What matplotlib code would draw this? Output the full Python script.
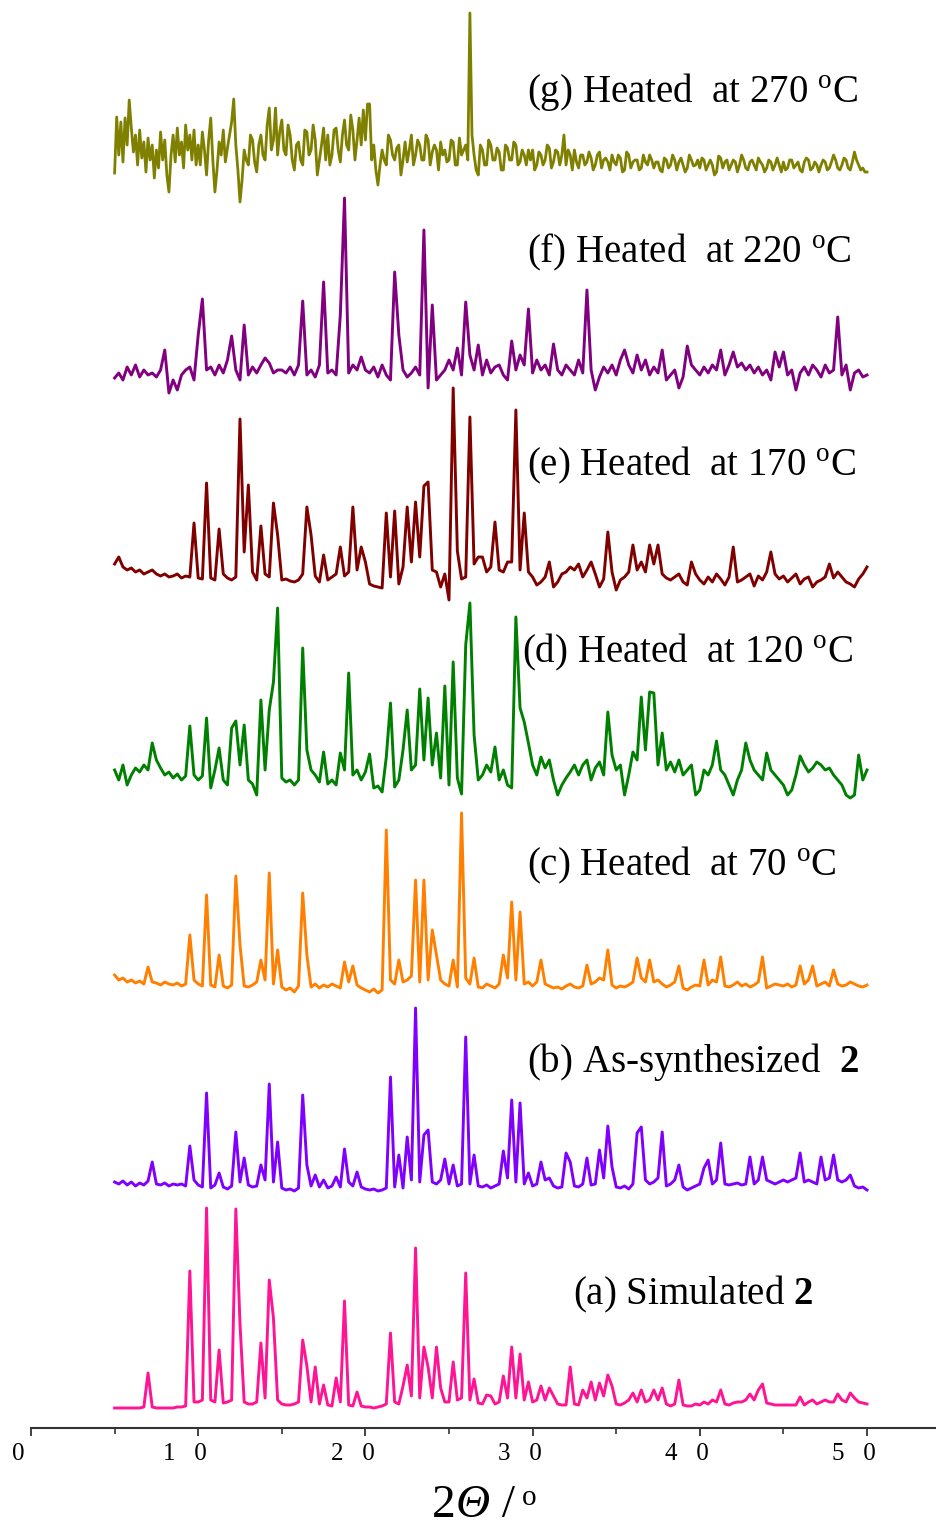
import numpy as np
import matplotlib
matplotlib.use("Agg")
import matplotlib.pyplot as plt
import matplotlib.transforms as mtransforms
from matplotlib.ticker import MultipleLocator

plt.rcParams['font.family'] = ['Liberation Serif', 'DejaVu Serif']
plt.rcParams['mathtext.fontset'] = 'custom'
plt.rcParams['mathtext.rm'] = 'Liberation Serif'
plt.rcParams['mathtext.it'] = 'Liberation Serif:italic'
plt.rcParams['mathtext.bf'] = 'Liberation Serif:bold'

# 2theta grids, 5..50 deg: 0.25 deg steps (181 points), 0.125 deg for the noisy (g) scan
two_theta = np.linspace(5.0, 50.0, 181)
two_theta_fine = np.linspace(5.0, 50.0, 361)

# ---- (a) simulated 2 ----
bg_a = [0, 0, 0, 0, 0, 0, 0, 1, 3, 1, 0, 0, 0, 0, 0, 1, 1, 2, 4, 6,
        6, 8, 12, 8, 6, 8, 5, 6, 8, 12, 14, 6, 4, 4, 6, 8, 10, 12, 12, 8,
        4, 3, 3, 4, 6, 10, 8, 6, 6, 4, 6, 3, 2, 5, 6, 8, 3, 2, 4, 2,
        1, 1, 0, 1, 2, 4, 8, 6, 4, 8, 10, 12, 14, 10, 12, 10, 10, 12, 8, 6,
        6, 8, 8, 10, 12, 8, 8, 5, 4, 6, 6, 4, 6, 8, 10, 12, 10, 10, 8, 6,
        6, 8, 10, 8, 8, 6, 4, 3, 3, 6, 4, 3, 6, 10, 8, 8, 10, 12, 10, 8,
        4, 3, 5, 8, 10, 6, 8, 6, 8, 10, 8, 6, 4, 2, 4, 6, 3, 2, 2, 4,
        3, 6, 4, 8, 6, 6, 4, 3, 5, 6, 6, 8, 10, 8, 10, 8, 5, 4, 3, 3,
        3, 3, 3, 3, 4, 3, 6, 8, 4, 6, 8, 6, 6, 8, 8, 6, 8, 10, 6, 5,
        4]
pk_a = [(7.07, 35), (9.47, 137), (10.43, 200), (11.16, 58), (12.14, 199),
        (12.58, 84), (13.70, 65), (14.27, 128), (14.61, 90), (16.19, 68),
        (16.53, 42), (16.93, 41), (17.38, 23), (18.32, 30), (18.82, 107),
        (19.6, 16), (21.47, 75), (22.17, 22), (22.47, 43), (23.07, 160),
        (23.5, 61), (23.8, 41), (24.18, 61), (24.6, 20), (25.22, 46),
        (25.9, 135), (26.56, 29), (27.15, 13), (27.45, 12), (28.19, 32),
        (28.79, 61), (29.25, 54), (29.84, 26), (30.5, 22), (30.9, 20),
        (31.3, 12), (32.24, 41), (33.0, 18), (33.4, 26), (33.9, 25),
        (34.4, 33), (34.85, 22), (36.0, 15), (36.6, 18), (37.2, 18),
        (37.8, 20), (38.8, 28), (41.2, 18), (42.9, 14), (43.4, 18),
        (43.8, 24), (46.0, 11), (48.2, 14), (49.0, 15)]

# ---- (b) as-synthesized 2 ----
bg_b = [8, 6, 9, 5, 8, 4, 7, 5, 9, 10, 6, 5, 7, 4, 6, 5, 6, 4, 8, 10,
        5, 3, 4, 2, 5, 8, 3, 1, 4, 6, 8, 10, 5, 3, 4, 8, 10, 12, 8, 10,
        2, 0, 1, -1, 2, 4, 8, 4, 6, 3, 5, 2, 4, 6, 3, 6, 8, 4, 6, 3,
        1, 0, 1, -1, 0, 2, 8, 3, 6, 2, 8, 10, 12, 8, 12, 15, 8, 6, 10, 8,
        6, 8, 4, 6, 10, 6, 8, 4, 3, 5, 2, 4, 6, 8, 12, 10, 8, 12, 6, 8,
        4, 6, 8, 10, 6, 4, 2, 3, 6, 8, 4, 3, 6, 8, 5, 6, 10, 12, 10, 6,
        3, 2, 4, 1, 6, 8, 12, 10, 6, 8, 12, 8, 4, 6, 10, 8, 3, 0, 2, 4,
        6, 8, 10, 6, 10, 8, 6, 5, 6, 7, 5, 6, 8, 6, 10, 8, 10, 8, 6, 8,
        10, 8, 10, 12, 10, 8, 10, 8, 6, 8, 10, 12, 8, 10, 8, 10, 6, 4, 2, 3,
        0]
pk_b = [(7.22, 28), (9.61, 44), (10.55, 97), (11.3, 17), (12.16, 58),
        (12.66, 32), (13.86, 25), (14.33, 106), (14.65, 48), (16.29, 95),
        (16.5, 25), (17.0, 15), (17.4, 10), (18.2, 13), (18.82, 41),
        (19.4, 18), (21.43, 113), (21.97, 35), (22.47, 53), (23.1, 182),
        (23.56, 55), (23.82, 60), (24.66, 31), (25.26, 25), (25.96, 153),
        (26.6, 35), (28.15, 39), (28.81, 90), (29.29, 87), (29.8, 17),
        (30.44, 28), (31.0, 12), (32.04, 37), (32.3, 28), (33.13, 32),
        (34.0, 40), (34.43, 64), (34.8, 23), (36.23, 57), (36.48, 63),
        (37.82, 58), (38.8, 25), (40.2, 22), (40.6, 30), (41.2, 47),
        (43.1, 33), (43.8, 33), (46.0, 37), (47.3, 33), (48.09, 35),
        (49.0, 15)]

# ---- (c) heated at 70 C ----
bg_c = [15, 10, 12, 8, 10, 7, 9, 6, 10, 8, 7, 5, 8, 6, 5, 7, 4, 6, 8, 10,
        6, 4, 8, 5, 3, 8, 4, 2, 5, 8, 10, 4, 3, 5, 8, 6, 10, 12, 6, 8,
        3, 0, 2, -2, 4, 8, 5, 3, 6, 2, 5, 3, 6, 4, 2, 6, 8, 3, 5, 2,
        0, -2, 1, -3, 0, 4, 10, 6, 4, 8, 10, 14, 12, 8, 12, 10, 8, 6, 10, 6,
        4, 8, 3, 5, 12, 6, 8, 3, 2, 6, 4, 2, 6, 10, 12, 14, 10, 12, 6, 8,
        4, 8, 10, 6, 4, 2, 3, 1, 4, 6, 3, 2, 4, 8, 6, 8, 12, 10, 8, 5,
        2, 4, 3, 5, 8, 10, 12, 8, 6, 8, 10, 6, 3, 5, 8, 4, 2, 0, 3, 5,
        4, 8, 5, 10, 8, 6, 4, 3, 5, 8, 4, 6, 3, 5, 8, 4, 2, 4, 6, 5,
        4, 6, 3, 5, 8, 6, 10, 8, 4, 6, 8, 4, 3, 6, 4, 5, 8, 6, 4, 3,
        5]
pk_c = [(7.12, 23), (9.51, 55), (10.47, 95), (11.24, 35), (12.14, 114),
        (12.62, 45), (13.70, 30), (14.29, 117), (14.65, 40), (16.27, 97),
        (16.5, 35), (18.78, 28), (19.2, 24), (21.35, 160), (21.95, 30),
        (22.97, 110), (23.56, 110), (23.98, 60), (24.28, 35), (25.36, 30),
        (25.84, 177), (26.56, 32), (28.17, 35), (28.77, 88), (29.25, 78),
        (30.44, 30), (33.13, 25), (34.39, 40), (36.24, 32), (36.9, 30),
        (38.82, 24), (40.19, 30), (41.15, 33), (43.78, 33), (45.99, 24),
        (46.7, 24), (48.03, 20)]

# ---- (d) heated at 120 C ----
bg_d = [20, 10, 25, 5, 15, 22, 18, 25, 20, 28, 30, 22, 15, 18, 12, 16, 10, 14, 12, 15,
        10, 14, 12, 2, 20, 8, 10, 5, 15, 20, 25, 18, 10, 6, -5, 30, 20, 25, 30, 20,
        12, 8, 10, 5, 10, 30, 35, 20, 15, 8, 12, 6, 10, 5, 12, 20, 25, 15, 20, 10,
        18, 5, 2, 4, -2, 8, 20, 3, 10, 30, 35, 20, 25, 15, 30, 35, 25, 20, 12, -8,
        5, -3, 12, -4, 20, 25, 20, 10, 15, 25, 18, 5, 10, 20, 5, 2, 15, 20, 35, 30,
        25, 15, 12, 22, 20, 10, -5, 5, 12, 18, 20, 15, 25, 20, 10, 22, 28, 15, 20, 35,
        20, 25, -5, 15, 20, 30, 35, 40, 30, 35, 25, 30, 20, 28, 18, 12, 15, 20, 25, -5,
        0, 20, 15, 25, 18, 20, 15, 5, -5, 10, 20, 25, 30, 20, 15, 10, 25, 20, 15, 10,
        5, -5, 0, 15, 20, 25, 18, 22, 28, 25, 20, 22, 15, 10, 5, -5, -8, -5, -2, 10,
        20]
pk_d = [(7.22, 47), (9.61, 64), (10.57, 72), (11.32, 42), (12.05, 62),
        (12.25, 69), (12.76, 65), (13.8, 90), (14.2, 80), (14.45, 108),
        (14.7, 182), (16.29, 142), (16.5, 40), (17.58, 38), (18.38, 37),
        (18.88, 117), (19.5, 20), (20.17, 36), (21.3, 33), (21.6, 87),
        (22.3, 40), (22.6, 80), (23.17, 101), (23.7, 92), (24.16, 57),
        (24.66, 104), (25.26, 128), (25.96, 145), (26.2, 187), (26.5, 55),
        (27.75, 43), (29.0, 173), (29.35, 82), (29.6, 68), (29.84, 47),
        (30.5, 33), (31.0, 30), (32.5, 25), (33.3, 30), (34.43, 78),
        (36.0, 38), (36.62, 93), (37.02, 98), (37.22, 97), (37.82, 57),
        (38.25, 23), (38.82, 30), (41.1, 49), (42.8, 47), (43.9, 37),
        (46.0, 34), (49.4, 35)]

# ---- (e) heated at 170 C ----
bg_e = [18, 25, 15, 12, 14, 10, 12, 8, 10, 12, 8, 6, 8, 5, 6, 8, 4, 6, 5, 8,
        4, 3, 6, 4, 2, 5, 8, 4, 2, 5, 20, 15, 8, 10, 2, 12, 8, 5, 10, 5,
        2, 3, 1, 0, 2, 8, 5, 3, 6, 0, 4, 2, 5, 8, 4, 6, 10, 8, 12, 5,
        3, -2, -4, -5, -6, 8, 5, 10, -2, 15, 12, 20, -3, 25, -2, -5, 12, 10, -5, 8,
        -18, 10, 15, 3, 5, -2, 18, 25, 0, 10, 15, 8, 12, 10, 20, 15, 5, 12, -5, 10,
        5, -3, 0, 5, 12, -5, 0, 8, 10, 15, 12, -8, 5, 12, 15, 8, -5, 3, 5, 10,
        -8, 2, 5, 10, 15, 12, 20, 10, 15, 18, 10, 8, 4, 2, 5, 8, 0, -3, 4, 8,
        2, -2, 5, 0, 8, 3, -3, 5, 8, 0, 2, 5, 8, -4, 6, 2, 10, 5, 8, 3,
        6, 0, 4, 8, -2, 3, 5, -5, 0, 2, 5, 8, 4, 10, 5, 0, -2, -5, 3, 8,
        15]
pk_e = [(9.65, 59), (10.55, 99), (11.34, 53), (12.4, 163), (12.7, 30),
        (13.04, 97), (13.8, 56), (14.4, 79), (14.85, 47), (16.39, 75),
        (16.79, 47), (17.58, 27), (18.54, 35), (19.14, 75), (19.8, 35),
        (20.1, 20), (21.37, 69), (21.77, 71), (22.47, 75), (23.07, 80),
        (23.47, 96), (23.8, 100), (25.36, 194), (25.6, 31), (26.26, 165),
        (27.05, 25), (27.81, 60), (28.75, 20), (29.1, 172), (29.59, 69),
        (31.04, 20), (32.73, 18), (33.53, 20), (34.5, 50), (36.0, 37),
        (37.0, 37), (37.6, 37), (39.61, 20), (41.9, 35), (44.34, 30),
        (47.79, 18)]

# ---- (f) heated at 220 C ----
bg_f = [7, 12, 5, 18, 10, 20, 8, 15, 10, 12, 8, 15, 10, -8, 5, -5, 10, 15, 18, 5,
        10, -5, 15, 18, 10, 20, 12, 25, 8, 15, 5, 20, 10, 18, 12, 20, 15, 22, 12, 15,
        15, 12, 18, 10, 20, 5, 10, 15, 8, 20, -5, 12, 15, 10, 18, 8, 12, 20, 15, 10,
        15, 12, 18, 8, 20, 10, 5, 20, -5, 15, 8, 12, 18, 10, 20, -3, 15, 5, 10, 15,
        20, 15, 25, 10, 12, 30, 15, 18, 10, 25, 12, 18, 20, 10, 5, 25, 15, 30, 20, 10,
        12, 25, 15, 20, 10, 18, 15, 10, 20, 15, 10, 25, 12, 8, 15, -5, 8, 18, 12, 20,
        10, 25, 15, 20, 12, 8, 15, 25, 10, 18, 12, 20, 5, 10, 15, -3, 8, 12, 20, 15,
        10, 18, 12, 20, 15, 25, 10, 20, 15, 18, 22, 15, 20, 12, 18, 10, 15, 5, 12, 18,
        20, 10, 15, -5, 12, 18, 10, 20, 15, 8, 20, 12, 15, 5, 10, 20, -5, 12, 15, 8,
        10]
pk_f = [(8.0, 35), (9.9, 50), (10.15, 86), (11.9, 49), (12.76, 60),
        (14.0, 27), (16.25, 84), (17.5, 103), (18.45, 70), (18.68, 187),
        (19.65, 28), (21.67, 113), (21.9, 50), (23.56, 155), (24.02, 80),
        (25.0, 25), (25.56, 37), (26.11, 83), (26.75, 40), (28.65, 44),
        (29.84, 76), (31.24, 41), (33.19, 95), (35.4, 35), (36.3, 30),
        (37.7, 35), (39.25, 39), (41.17, 35), (42.0, 33), (44.4, 33),
        (44.9, 33), (48.15, 68)]

# ---- (g) heated at 270 C (0.125 deg steps) ----
bg_g = [17, 73, 35, 68, 28, 72, 45, 20, 62, 38, 55, 25, 60, 32, 48, 18, 52, 30, 45, 12,
        40, 22, 58, 30, 50, 15, -2, 35, 55, 28, 62, 35, 48, 22, 65, 40, 55, 30, 60, 25,
        45, 25, 58, 40, 15, 50, 72, 30, -2, 20, 48, 35, 60, 28, 42, 55, 68, 40, 45, 20,
        -12, 10, 40, 30, 25, 55, 50, 28, 18, 45, 55, 35, 30, 65, 82, 40, 50, 60, 35, 58,
        70, 40, 35, 65, 55, 30, 20, 45, 48, 30, 25, 60, 58, 35, 40, 65, 50, 15, 30, 45,
        62, 30, 55, 25, 35, 60, 62, 40, 28, 55, 70, 45, 40, 75, 60, 30, 50, 72, 45, 80,
        50, 86, 70, 30, 45, 20, 5, 25, 40, 30, 25, 55, 50, 35, 30, 42, 45, 15, 30, 48,
        28, 40, 55, 25, 35, 50, 45, 30, 30, 55, 50, 25, 38, 45, 40, 20, 48, 35, 40, 28,
        30, 50, 48, 25, 25, 52, 35, 40, 45, 30, 50, 55, 35, 20, 15, 45, 40, 25, 25, 50,
        45, 30, 30, 42, 38, 20, 20, 45, 42, 30, 30, 48, 45, 25, 28, 40, 35, 25, 40, 30,
        40, 20, 25, 38, 35, 25, 30, 45, 42, 22, 28, 40, 38, 25, 35, 30, 25, 40, 35, 20,
        40, 28, 22, 35, 35, 25, 28, 38, 32, 20, 25, 35, 38, 22, 30, 32, 28, 20, 35, 28,
        25, 35, 32, 18, 20, 38, 35, 22, 28, 30, 30, 20, 22, 35, 28, 25, 35, 30, 22, 28,
        28, 20, 18, 32, 30, 22, 25, 35, 30, 20, 28, 32, 25, 18, 22, 35, 30, 24, 25, 30,
        22, 32, 30, 20, 25, 30, 25, 15, 18, 34, 32, 22, 28, 30, 20, 25, 30, 28, 18, 25,
        35, 30, 22, 20, 28, 30, 25, 20, 32, 28, 25, 18, 22, 30, 28, 20, 25, 32, 25, 18,
        28, 20, 22, 30, 30, 22, 25, 28, 20, 18, 28, 32, 30, 20, 22, 28, 25, 18, 25, 30,
        28, 20, 22, 28, 35, 30, 22, 20, 25, 32, 30, 22, 20, 28, 38, 30, 25, 20, 22, 18,
        18]
pk_g = [(5.92, 90), (12.1, 91), (14.6, 82), (20.27, 86), (26.26, 177),
        (31.9, 55)]

labels = ['(a) Simulated $\\mathbf{2}$',
          '(b) As-synthesized  $\\mathbf{2}$',
          '(c) Heated  at 70 $^{\\rm o}$C',
          '(d) Heated  at 120 $^{\\rm o}$C',
          '(e) Heated  at 170 $^{\\rm o}$C',
          '(f) Heated  at 220 $^{\\rm o}$C',
          '(g) Heated  at 270 $^{\\rm o}$C']
colors = ['#ff1493', '#8000ff', '#ff8000', '#008000', '#800000', '#800080', '#808000']
grids = [two_theta] * 6 + [two_theta_fine]
backgrounds = [bg_a, bg_b, bg_c, bg_d, bg_e, bg_f, bg_g]
peak_lists = [pk_a, pk_b, pk_c, pk_d, pk_e, pk_f, pk_g]

# stacking offsets and label placement
offsets = [20, 238, 438, 638, 846, 1043, 1238]
label_x = [32.42, 29.67, 29.67, 29.37, 29.67, 29.67, 29.67]
label_y = [134, 366, 563, 776, 963, 1176, 1336]


def build_pattern(grid, bg, peaks):
    y = np.array(bg, dtype=float)
    for pos, h in peaks:
        i = int(np.argmin(np.abs(grid - pos)))
        y[i] = max(y[i], h)
    return y


def main():
    fig = plt.figure(figsize=(9.36, 15.26), dpi=100)
    ax = fig.add_axes([31 / 936, 98 / 1526, 905 / 936, 1428 / 1526])

    for grid, bg, pk, off, col, lab, lx, ly in zip(grids, backgrounds, peak_lists,
                                                   offsets, colors, labels,
                                                   label_x, label_y):
        y = build_pattern(grid, bg, pk)
        lw = 2.0 if grid is two_theta_fine else 2.1
        ax.plot(grid, y + off, color=col, lw=lw, solid_joinstyle='round')
        ax.text(lx, ly, lab, fontsize=28, va='center', ha='left', color='black')

    ax.set_xlim(0, 905 / 16.72)
    ax.set_ylim(0, 1428)

    for s in ['left', 'right', 'top']:
        ax.spines[s].set_visible(False)
    ax.spines['bottom'].set_color('#333333')
    ax.spines['bottom'].set_linewidth(1.5)
    ax.set_yticks([])

    ax.set_xticks([0, 10, 20, 30, 40, 50])
    ax.set_xticklabels(['0', '1   0', '2   0', '3   0', '4   0', '5   0'])
    ax.xaxis.set_minor_locator(MultipleLocator(5))
    ax.tick_params(axis='x', which='major', direction='out', length=6, width=1.3,
                   color='#333333', labelsize=18, pad=5)
    ax.tick_params(axis='x', which='minor', direction='out', length=4, width=1.2,
                   color='#333333')
    shift = mtransforms.ScaledTranslation(-13 / 100, 0, fig.dpi_scale_trans)
    for t in ax.get_xticklabels():
        t.set_transform(t.get_transform() + shift)

    # axis title: 2 (italic Theta) / superscript o
    t1 = fig.text(432 / 936, 1 - 1506 / 1526, '2', fontsize=34, va='center', ha='left')
    t2 = ax.annotate('Θ', xy=(1, 0), xycoords=t1, va='bottom', ha='left',
                     fontsize=34, fontstyle='italic', annotation_clip=False)
    t3 = ax.annotate(' /', xy=(1, 0), xycoords=t2, va='bottom', ha='left',
                     fontsize=34, annotation_clip=False)
    ax.annotate('o', xy=(1, 1), xycoords=t3, va='top', ha='left',
                fontsize=21, xytext=(5, 0), textcoords='offset points',
                annotation_clip=False)

    fig.savefig('out.png', dpi=100)
    plt.close(fig)


if __name__ == "__main__":
    main()
